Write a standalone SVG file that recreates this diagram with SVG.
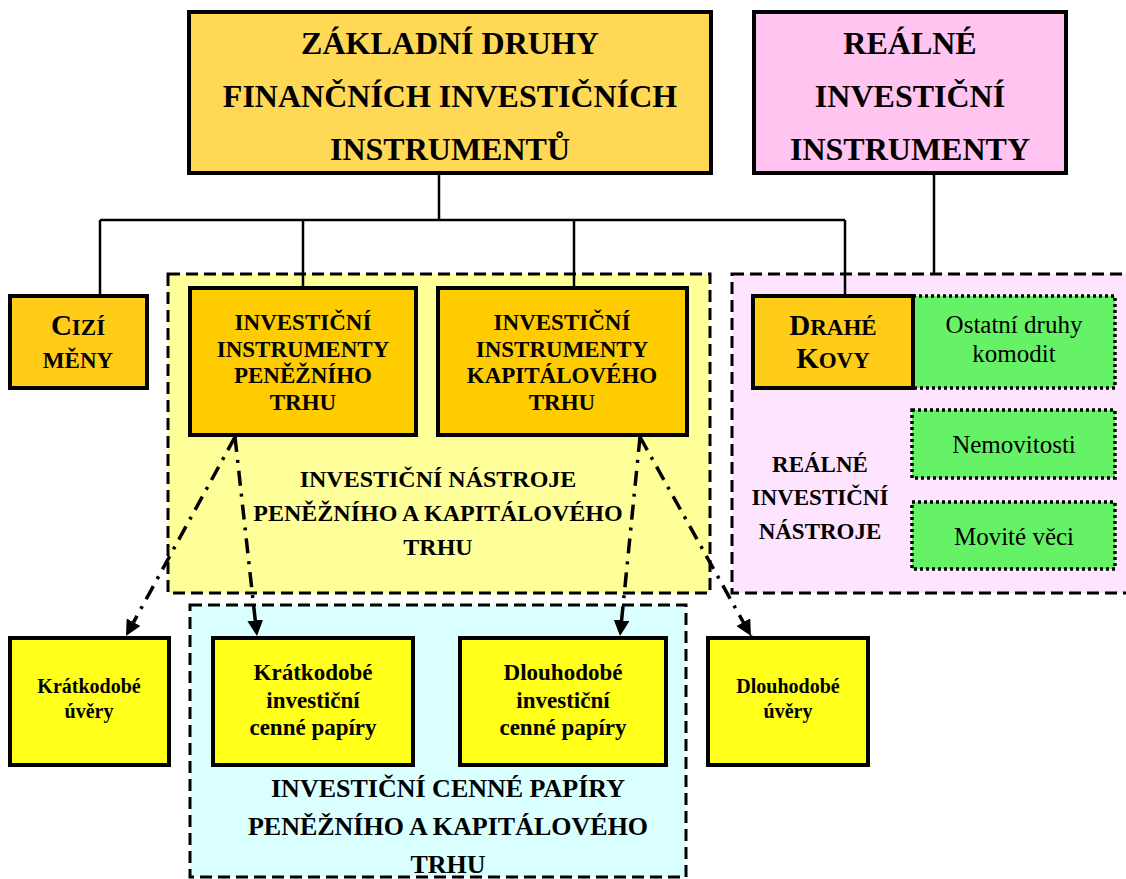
<svg xmlns="http://www.w3.org/2000/svg" width="1126" height="879" viewBox="0 0 1126 879">
<style>
text{font-family:"Liberation Serif","Times New Roman",serif;fill:#000;text-anchor:middle}
.b{font-weight:bold}
.t32{font-size:32px}
.t23{font-size:23px}
.t24{font-size:24px}
.t26{font-size:26px}
.t20{font-size:20px}
.r25{font-size:25px}
.box{stroke:#000;stroke-width:4}
.region{stroke:#000;stroke-width:3;stroke-dasharray:12 6}
.green{fill:#66F266;stroke:#000;stroke-width:3.5;stroke-dasharray:3 3}
.tree{stroke:#000;stroke-width:2.5;fill:none}
.dd{stroke:#000;stroke-width:3.5;fill:none;stroke-dasharray:15 8 3 8;marker-end:url(#arr)}
</style>
<defs>
<marker id="arr" viewBox="0 0 10 10" refX="10" refY="5" markerWidth="4.5" markerHeight="4.5" markerUnits="strokeWidth" orient="auto">
<path d="M0,0 L10,5 L0,10 z" fill="#000"/>
</marker>
</defs>
<rect width="1126" height="879" fill="#fff"/>

<g id="region-financni">
<rect class="region" x="168" y="274" width="542" height="319" fill="#FFFF99"/>
<text class="b t24" x="438" y="487">INVESTIČNÍ NÁSTROJE</text>
<text class="b t24" x="438" y="521">PENĚŽNÍHO A KAPITÁLOVÉHO</text>
<text class="b t24" x="438" y="555">TRHU</text>
</g>
<g id="region-realne">
<rect class="region" x="732" y="274" width="420" height="319" fill="#FFE4FF"/>
<text class="b t23" x="820" y="472">REÁLNÉ</text>
<text class="b t23" x="820" y="505">INVESTIČNÍ</text>
<text class="b t23" x="820" y="539">NÁSTROJE</text>
</g>
<g id="region-cenne-papiry">
<rect class="region" x="190" y="605" width="496" height="272" fill="#D9FFFF"/>
<text class="b t26" x="448" y="797">INVESTIČNÍ CENNÉ PAPÍRY</text>
<text class="b t26" x="448" y="835">PENĚŽNÍHO A KAPITÁLOVÉHO</text>
<text class="b t26" x="448" y="873">TRHU</text>
</g>

<g id="connectors">
<path class="tree" d="M439,173 V220 M100,220 H845 M100,220 V296 M303,220 V288 M574,220 V288 M845,220 V296 M934,173 V274"/>
<path class="dd" d="M235,437 L126,636"/>
<path class="dd" d="M235,437 L257,636"/>
<path class="dd" d="M640,437 L620,636"/>
<path class="dd" d="M640,437 L751,636"/>
</g>

<g id="node-zakladni">
<rect class="box" x="189" y="12" width="522" height="161" fill="#FFD955"/>
<text class="b t32" x="450" y="54">ZÁKLADNÍ DRUHY</text>
<text class="b t32" x="450" y="107">FINANČNÍCH INVESTIČNÍCH</text>
<text class="b t32" x="450" y="160">INSTRUMENTŮ</text>
</g>
<g id="node-realne">
<rect class="box" x="754" y="12" width="312" height="161" fill="#FFC4F0"/>
<text class="b t32" x="910" y="54">REÁLNÉ</text>
<text class="b t32" x="910" y="107">INVESTIČNÍ</text>
<text class="b t32" x="910" y="160">INSTRUMENTY</text>
</g>
<g id="node-cizi-meny">
<rect class="box" x="10" y="296" width="137" height="92" fill="#FFCC1A"/>
<text class="b" x="78" y="335"><tspan font-size="29">C</tspan><tspan font-size="23">IZÍ</tspan></text>
<text class="b t23" x="78" y="368">MĚNY</text>
</g>
<g id="node-penezni">
<rect class="box" x="190" y="288" width="226" height="147" fill="#FFCC00"/>
<text class="b t23" x="303" y="330">INVESTIČNÍ</text>
<text class="b t23" x="303" y="357">INSTRUMENTY</text>
<text class="b t23" x="303" y="383">PENĚŽNÍHO</text>
<text class="b t23" x="303" y="410">TRHU</text>
</g>
<g id="node-kapitalovy">
<rect class="box" x="438" y="288" width="249" height="147" fill="#FFCC00"/>
<text class="b t23" x="562" y="330">INVESTIČNÍ</text>
<text class="b t23" x="562" y="357">INSTRUMENTY</text>
<text class="b t23" x="562" y="383">KAPITÁLOVÉHO</text>
<text class="b t23" x="562" y="410">TRHU</text>
</g>
<g id="node-ostatni">
<rect class="green" x="913" y="296" width="202" height="92"/>
<text class="r25" x="1014" y="333">Ostatní druhy</text>
<text class="r25" x="1014" y="362">komodit</text>
</g>
<g id="node-drahe-kovy">
<rect class="box" x="753" y="296" width="160" height="92" fill="#FFCC1A"/>
<text class="b" x="833" y="335"><tspan font-size="29">D</tspan><tspan font-size="23">RAHÉ</tspan></text>
<text class="b" x="833" y="368"><tspan font-size="29">K</tspan><tspan font-size="23">OVY</tspan></text>
</g>
<g id="node-nemovitosti">
<rect class="green" x="912" y="410" width="203" height="68"/>
<text class="r25" x="1014" y="453">Nemovitosti</text>
</g>
<g id="node-movite">
<rect class="green" x="912" y="502" width="203" height="67"/>
<text class="r25" x="1014" y="545">Movité věci</text>
</g>

<g id="node-kratkodobe-uvery">
<rect class="box" x="10" y="638" width="159" height="127" fill="#FFFF1A"/>
<text class="b t20" x="89" y="693">Krátkodobé</text>
<text class="b t20" x="89" y="718">úvěry</text>
</g>
<g id="node-kratkodobe-cp">
<rect class="box" x="213" y="638" width="200" height="127" fill="#FFFF1A"/>
<text class="b t23" x="313" y="680">Krátkodobé</text>
<text class="b t23" x="313" y="708">investiční</text>
<text class="b t23" x="313" y="735">cenné papíry</text>
</g>
<g id="node-dlouhodobe-cp">
<rect class="box" x="460" y="638" width="206" height="127" fill="#FFFF1A"/>
<text class="b t23" x="563" y="680">Dlouhodobé</text>
<text class="b t23" x="563" y="708">investiční</text>
<text class="b t23" x="563" y="735">cenné papíry</text>
</g>
<g id="node-dlouhodobe-uvery">
<rect class="box" x="708" y="638" width="160" height="127" fill="#FFFF1A"/>
<text class="b t20" x="788" y="693">Dlouhodobé</text>
<text class="b t20" x="788" y="718">úvěry</text>
</g>
</svg>
